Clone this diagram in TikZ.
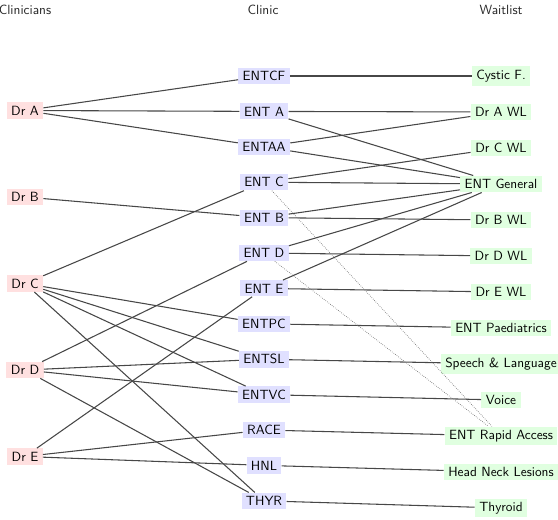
\documentclass[tikz,border=0pt]{standalone}
\usepackage{tikz}
\usetikzlibrary{positioning}

\begin{document}
\begin{tikzpicture}[
    x=0.75pt, y=-0.75pt,
    every node/.style={font=\sffamily},
    head/.style={text=black!85},
    doc/.style={fill=red!12, inner xsep=3.3pt, inner ysep=2.6pt},
    clinic/.style={fill=blue!12, inner xsep=3.3pt, inner ysep=2.6pt},
    wlist/.style={fill=green!12, inner xsep=3.3pt, inner ysep=2.6pt},
    link/.style={draw=black!72, line width=0.8pt},
    alt/.style={draw=black!55, densely dotted, line width=0.5pt}
]
\useasboundingbox (0,0) rectangle (558,519);

% column headings
\node[head] (hdoc) at (25,10) {Clinicians};
\node[head] (hclinic) at (263,10) {Clinic};
\node[head] (hwl) at (501,10) {Waitlist};

% clinicians
\node[doc] (drA) at (25,110.5) {Dr A};
\node[doc] (drB) at (25,197) {Dr B};
\node[doc] (drC) at (25,283.5) {Dr C};
\node[doc] (drD) at (25,370) {Dr D};
\node[doc] (drE) at (25,456.5) {Dr E};

% clinics
\node[clinic] (entcf) at (264,76) {ENTCF};
\node[clinic] (enta) at (264,111.4) {ENT A};
\node[clinic] (entaa) at (264,146.8) {ENTAA};
\node[clinic] (entc) at (264,182.2) {ENT C};
\node[clinic] (entb) at (264,217.6) {ENT B};
\node[clinic] (entd) at (264,253) {ENT D};
\node[clinic] (ente) at (264,288.4) {ENT E};
\node[clinic] (entpc) at (264,323.8) {ENTPC};
\node[clinic] (entsl) at (264,359.2) {ENTSL};
\node[clinic] (entvc) at (264,394.6) {ENTVC};
\node[clinic] (race) at (264,430) {RACE};
\node[clinic] (hnl) at (264,465.4) {HNL};
\node[clinic] (thyr) at (264,500.8) {THYR};

% waitlists
\node[wlist] (cystic) at (501,76) {Cystic F.};
\node[wlist] (wlA) at (501,112) {Dr A WL};
\node[wlist] (wlC) at (501,148) {Dr C WL};
\node[wlist] (general) at (501,184) {ENT General};
\node[wlist] (wlB) at (501,220) {Dr B WL};
\node[wlist] (wlD) at (501,256) {Dr D WL};
\node[wlist] (wlE) at (501,292) {Dr E WL};
\node[wlist] (paed) at (501,328) {ENT Paediatrics};
\node[wlist] (speech) at (501,364) {Speech \& Language};
\node[wlist] (voice) at (501,400) {Voice};
\node[wlist] (rapid) at (501,436) {ENT Rapid Access};
\node[wlist] (headneck) at (501,472) {Head Neck Lesions};
\node[wlist] (thyroid) at (501,508) {Thyroid};

% clinicians to clinics
\draw[link] (drA) -- (entcf);
\draw[link] (drA) -- (enta);
\draw[link] (drA) -- (entaa);
\draw[link] (drB) -- (entb);
\draw[link] (drC) -- (entc);
\draw[link] (drC) -- (entpc);
\draw[link] (drC) -- (entsl);
\draw[link] (drC) -- (entvc);
\draw[link] (drC) -- (thyr);
\draw[link] (drD) -- (entd);
\draw[link] (drD) -- (entsl);
\draw[link] (drD) -- (entvc);
\draw[link] (drD) -- (thyr);
\draw[link] (drE) -- (ente);
\draw[link] (drE) -- (race);
\draw[link] (drE) -- (hnl);

% clinics to waitlists
\draw[link] (entcf) -- (cystic);
\draw[link] (enta) -- (wlA);
\draw[link] (enta) -- (general);
\draw[link] (entaa) -- (wlA);
\draw[link] (entaa) -- (general);
\draw[link] (entc) -- (wlC);
\draw[link] (entc) -- (general);
\draw[link] (entb) -- (general);
\draw[link] (entb) -- (wlB);
\draw[link] (entd) -- (general);
\draw[link] (entd) -- (wlD);
\draw[link] (ente) -- (general);
\draw[link] (ente) -- (wlE);
\draw[link] (entpc) -- (paed);
\draw[link] (entsl) -- (speech);
\draw[link] (entvc) -- (voice);
\draw[link] (race) -- (rapid);
\draw[link] (hnl) -- (headneck);
\draw[link] (thyr) -- (thyroid);
\draw[alt] (entc) -- (rapid);
\draw[alt] (entd) -- (rapid);
\end{tikzpicture}
\end{document}
